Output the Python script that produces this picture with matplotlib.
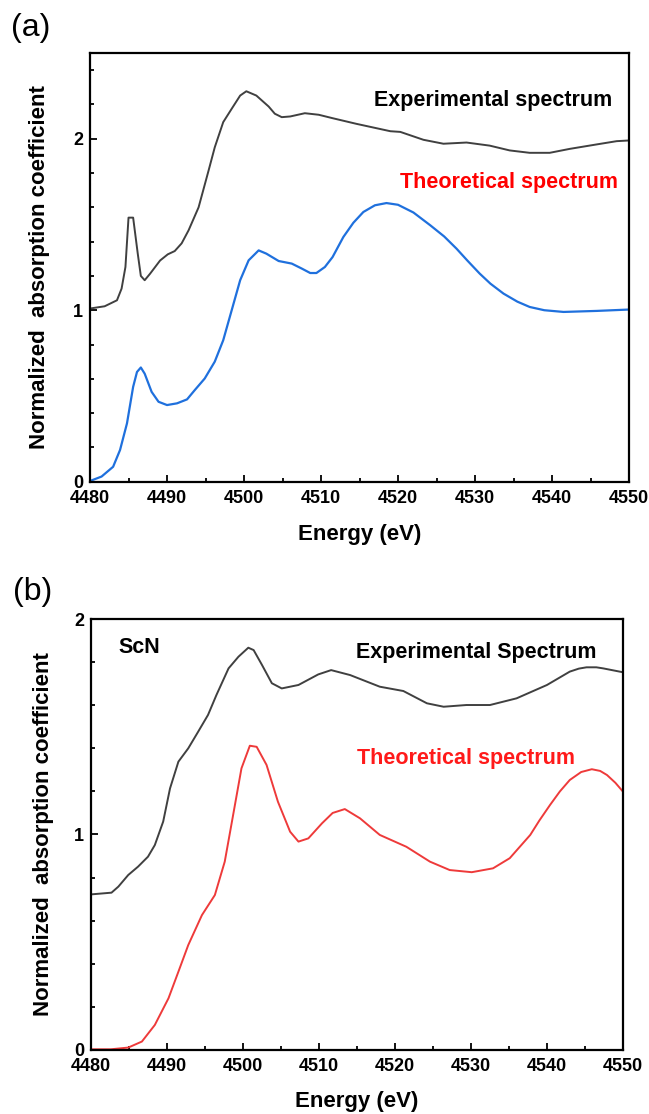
import matplotlib
matplotlib.use("Agg")
import matplotlib.pyplot as plt
from matplotlib.ticker import MultipleLocator

plt.rcParams['font.family'] = ['Liberation Sans', 'DejaVu Sans']
plt.rcParams['font.weight'] = 'bold'

# (a) experimental and theoretical spectra
a_exp_e = [4480.0, 4481.9, 4483.5, 4484.1, 4484.6, 4485.0, 4485.6, 4486.2, 4486.6,
           4487.1, 4487.8, 4489.1, 4490.1, 4491.0, 4491.9, 4492.8, 4494.1, 4495.4,
           4496.2, 4497.3, 4498.4, 4499.5, 4500.3, 4501.6, 4503.2, 4504.0, 4504.9,
           4506.0, 4507.9, 4509.7, 4511.5, 4514.6, 4519.0, 4520.3, 4523.3, 4525.9,
           4528.9, 4531.9, 4534.5, 4537.1, 4539.7, 4542.3, 4545.8, 4548.4, 4550.0]
a_exp_mu = [1.01, 1.023, 1.058, 1.126, 1.252, 1.54, 1.54, 1.33, 1.20,
            1.175, 1.213, 1.29, 1.326, 1.345, 1.39, 1.466, 1.60, 1.815,
            1.95, 2.097, 2.175, 2.252, 2.277, 2.252, 2.188, 2.146, 2.126,
            2.13, 2.149, 2.14, 2.12, 2.087, 2.044, 2.04, 1.994, 1.971,
            1.978, 1.96, 1.932, 1.918, 1.918, 1.941, 1.967, 1.986, 1.99]

a_th_e = [4480.0, 4481.5, 4483.0, 4483.9, 4484.8, 4485.6, 4486.1, 4486.6, 4487.1,
          4488.0, 4488.9, 4490.0, 4491.3, 4492.6, 4493.6, 4494.9, 4496.2, 4497.3,
          4498.4, 4499.5, 4500.6, 4501.9, 4502.9, 4504.5, 4506.2, 4507.5, 4508.6,
          4509.4, 4510.5, 4511.5, 4512.9, 4514.2, 4515.5, 4517.0, 4518.5, 4520.0,
          4522.0, 4524.2, 4526.0, 4527.6, 4529.0, 4530.6, 4532.0, 4533.7, 4535.5,
          4537.1, 4539.0, 4541.5, 4545.8, 4550.0]
a_th_mu = [0.004, 0.03, 0.087, 0.185, 0.34, 0.553, 0.64, 0.666, 0.63,
           0.524, 0.466, 0.447, 0.457, 0.48, 0.534, 0.602, 0.70, 0.825,
           1.0, 1.175, 1.291, 1.349, 1.33, 1.287, 1.272, 1.243, 1.217,
           1.217, 1.252, 1.31, 1.427, 1.51, 1.573, 1.612, 1.625, 1.615,
           1.57, 1.495, 1.43, 1.359, 1.29, 1.214, 1.155, 1.097, 1.05,
           1.019, 1.0, 0.99, 0.996, 1.004]

# (b) ScN
b_exp_e = [4480.0, 4482.7, 4483.6, 4484.9, 4486.2, 4487.5, 4488.4, 4489.5, 4490.4,
           4491.5, 4492.8, 4494.1, 4495.4, 4496.5, 4498.1, 4499.4, 4500.7, 4501.4,
           4502.5, 4503.8, 4505.1, 4507.3, 4509.9, 4511.6, 4514.1, 4518.0, 4521.1,
           4524.2, 4526.4, 4529.4, 4532.5, 4536.0, 4540.0, 4541.5, 4543.0, 4544.2,
           4545.2, 4546.5, 4547.4, 4550.0]
b_exp_mu = [0.722, 0.73, 0.758, 0.812, 0.851, 0.897, 0.951, 1.06, 1.214,
            1.338, 1.40, 1.477, 1.555, 1.647, 1.771, 1.825, 1.867, 1.856,
            1.787, 1.702, 1.678, 1.694, 1.743, 1.763, 1.74, 1.686, 1.666,
            1.609, 1.593, 1.601, 1.601, 1.632, 1.694, 1.725, 1.756, 1.77,
            1.776, 1.776, 1.771, 1.753]

b_th_e = [4480.0, 4482.6, 4484.9, 4486.7, 4488.4, 4490.2, 4491.5, 4492.8, 4494.6,
          4496.3, 4497.6, 4498.7, 4499.8, 4500.9, 4501.8, 4503.1, 4504.6, 4506.2,
          4507.3, 4508.6, 4510.4, 4511.8, 4513.4, 4515.4, 4518.0, 4521.5, 4524.6,
          4527.2, 4530.1, 4532.9, 4535.1, 4537.8, 4539.0, 4540.4, 4541.7, 4543.0,
          4544.5, 4545.9, 4547.0, 4547.9, 4549.0, 4550.0]
b_th_mu = [0.003, 0.003, 0.011, 0.039, 0.116, 0.24, 0.363, 0.487, 0.626,
           0.719, 0.874, 1.09, 1.307, 1.412, 1.407, 1.323, 1.152, 1.013,
           0.967, 0.982, 1.052, 1.10, 1.118, 1.075, 0.998, 0.943, 0.874,
           0.835, 0.825, 0.843, 0.89, 0.998, 1.065, 1.137, 1.2, 1.253,
           1.29, 1.303, 1.295, 1.276, 1.24, 1.199]

GRAY = '#404040'
BLUE = '#1f70dd'
RED_LINE = '#ee3a3a'

fig = plt.figure(figsize=(6.49, 11.14), dpi=100)
ax_a = fig.add_axes([0.1387, 0.5676, 0.8305, 0.3848])
ax_b = fig.add_axes([0.1402, 0.0575, 0.8197, 0.3868])


def style_axes(ax, ymax, xlab_y, ylab_x):
    ax.set_xlim(4480, 4550)
    ax.set_ylim(0, ymax)
    ax.xaxis.set_major_locator(MultipleLocator(10))
    ax.xaxis.set_minor_locator(MultipleLocator(5))
    ax.yaxis.set_major_locator(MultipleLocator(1))
    ax.yaxis.set_minor_locator(MultipleLocator(0.2))
    ax.tick_params(which='both', direction='in', width=1.3, labelsize=13,
                   top=False, right=False)
    ax.tick_params(which='major', length=5)
    ax.tick_params(which='minor', length=3)
    ax.tick_params(axis='x', which='major', pad=6)
    ax.tick_params(axis='y', which='major', pad=5)
    for lab in ax.get_xticklabels() + ax.get_yticklabels():
        lab.set_fontweight('bold')
    for sp in ax.spines.values():
        sp.set_linewidth(1.6)
    ax.set_xlabel('Energy (eV)', fontsize=16, fontweight='bold')
    ax.set_ylabel('Normalized  absorption coefficient', fontsize=16,
                  fontweight='bold')
    ax.xaxis.set_label_coords(0.5, xlab_y)
    ax.yaxis.set_label_coords(ylab_x, 0.5)


ax_a.plot(a_exp_e, a_exp_mu, color=GRAY, lw=1.4)
ax_a.plot(a_th_e, a_th_mu, color=BLUE, lw=1.6)
style_axes(ax_a, 2.5, -0.099, -0.074)
ax_a.text(0.968, 0.89, 'Experimental spectrum', transform=ax_a.transAxes,
          ha='right', va='center', fontsize=15.5, fontweight='bold', color='black')
ax_a.text(0.98, 0.699, 'Theoretical spectrum', transform=ax_a.transAxes,
          ha='right', va='center', fontsize=15.5, fontweight='bold', color='#ff0000')

ax_b.plot(b_exp_e, b_exp_mu, color=GRAY, lw=1.4)
ax_b.plot(b_th_e, b_th_mu, color=RED_LINE, lw=1.4)
style_axes(ax_b, 2.0, -0.095, -0.070)
ax_b.text(0.051, 0.933, 'ScN', transform=ax_b.transAxes,
          ha='left', va='center', fontsize=15.5, fontweight='bold')
ax_b.text(0.951, 0.923, 'Experimental Spectrum', transform=ax_b.transAxes,
          ha='right', va='center', fontsize=15.5, fontweight='bold', color='black')
ax_b.text(0.910, 0.677, 'Theoretical spectrum', transform=ax_b.transAxes,
          ha='right', va='center', fontsize=15.5, fontweight='bold', color='#ff1a1a')

fig.text(11 / 649, 1 - 28 / 1114, '(a)', fontsize=23, fontweight='normal',
         ha='left', va='center')
fig.text(13 / 649, 1 - 592 / 1114, '(b)', fontsize=23, fontweight='normal',
         ha='left', va='center')

fig.savefig('out.png', dpi=100)
